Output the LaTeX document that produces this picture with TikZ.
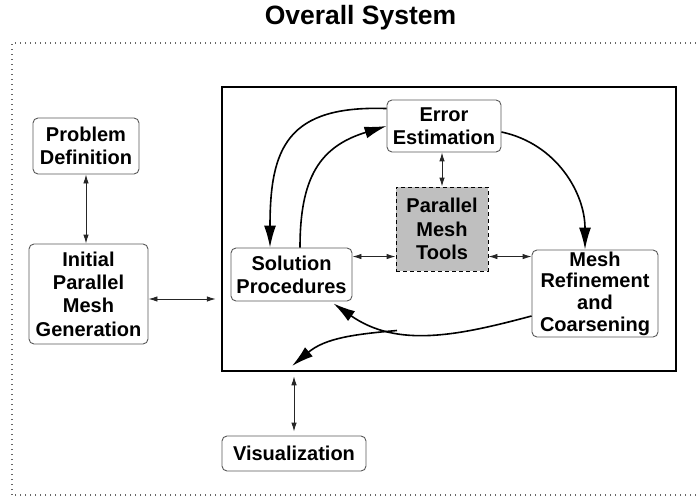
\documentclass[tikz,border=0pt]{standalone}
\usepackage{fontspec}
\setmainfont{Liberation Sans}
\usetikzlibrary{arrows.meta}

\begin{document}
\begin{tikzpicture}[x=1pt,y=1pt,
  blk/.style={draw=black!65,line width=0.9pt,rounded corners=5pt,fill=white,
    align=center,inner sep=0pt,font=\bfseries\fontsize{20}{23.3}\selectfont},
  toolbox/.style={blk,rounded corners=0pt,draw=black,fill=black!25,
    dash pattern=on 4pt off 3pt},
  link/.style={draw=black!85,line width=0.9pt,
    {Latex[length=9pt,width=5.5pt]}-{Latex[length=9pt,width=5.5pt]}},
  flow/.style={line width=1.6pt,-{Latex[length=22pt,width=12pt]}}]
\clip (0,0) rectangle (700,496);
\draw[black!60,line width=1.3pt,dash pattern=on 1.2pt off 3.8pt] (12,1) rectangle (712,453);
\node[anchor=base,font=\bfseries\fontsize{26.5}{30}\selectfont] (title) at (360.5,471) {Overall System};

\node[draw,line width=2.5pt,minimum width=454pt,minimum height=284pt,inner sep=0pt] (core) at (449,267) {};
\node[blk,minimum width=114pt,minimum height=52pt] (err) at (444,370) {Error\\Estimation};
\node[toolbox,minimum width=92pt,minimum height=84pt] (tools) at (442,267) {Parallel\\Mesh\\Tools};
\node[blk,minimum width=121pt,minimum height=53pt] (sol) at (291.5,221.5) {Solution\\Procedures};
\node[blk,minimum width=126pt,minimum height=87pt,font=\bfseries\fontsize{20}{21.7}\selectfont] (mesh) at (595,202.5) {Mesh\\Refinement\\and\\Coarsening};
\node[blk,minimum width=106pt,minimum height=56pt] (prob) at (86,350) {Problem\\Definition};
\node[blk,minimum width=119pt,minimum height=100pt] (init) at (88.5,202) {Initial\\Parallel\\Mesh\\Generation};
\node[blk,minimum width=144pt,minimum height=35pt] (vis) at (294,42.5) {Visualization};

\draw[link] (prob.south) -- (prob.south |- init.north);
\draw[link,shorten >=5pt] ([yshift=-5pt]init.east) -- ([yshift=-5pt]init.east -| core.west);
\draw[link,shorten <=4pt,shorten >=4pt] (vis.north) -- (vis.north |- core.south);
\draw[link] (tools.north) -- (tools.north |- err.south);
\draw[link] ([yshift=-9pt]sol.north east) -- ([yshift=-9pt]sol.north east -| tools.west);
\draw[link] ([yshift=-7pt]mesh.north west) -- ([yshift=-7pt]mesh.north west -| tools.east);

\draw[flow] ([yshift=-9pt]err.north west) to[out=178,in=90,looseness=1.4] ([xshift=-21.5pt]sol.north);
\draw[flow] ([xshift=8.5pt]sol.north) to[out=90,in=197,looseness=1.2] (err.west);
\draw[flow] ([yshift=-6pt]err.east) to[out=-12,in=90] ([xshift=-10pt]mesh.north);
\draw[flow] ([yshift=-22.5pt]mesh.west) to[out=195,in=-35] ([xshift=-19pt,yshift=-2pt]sol.south east);
\coordinate (split) at (397,165.5);
\coordinate (drop) at (292,130);
\draw[flow] (split) to[out=185,in=40] (drop);
\end{tikzpicture}
\end{document}
